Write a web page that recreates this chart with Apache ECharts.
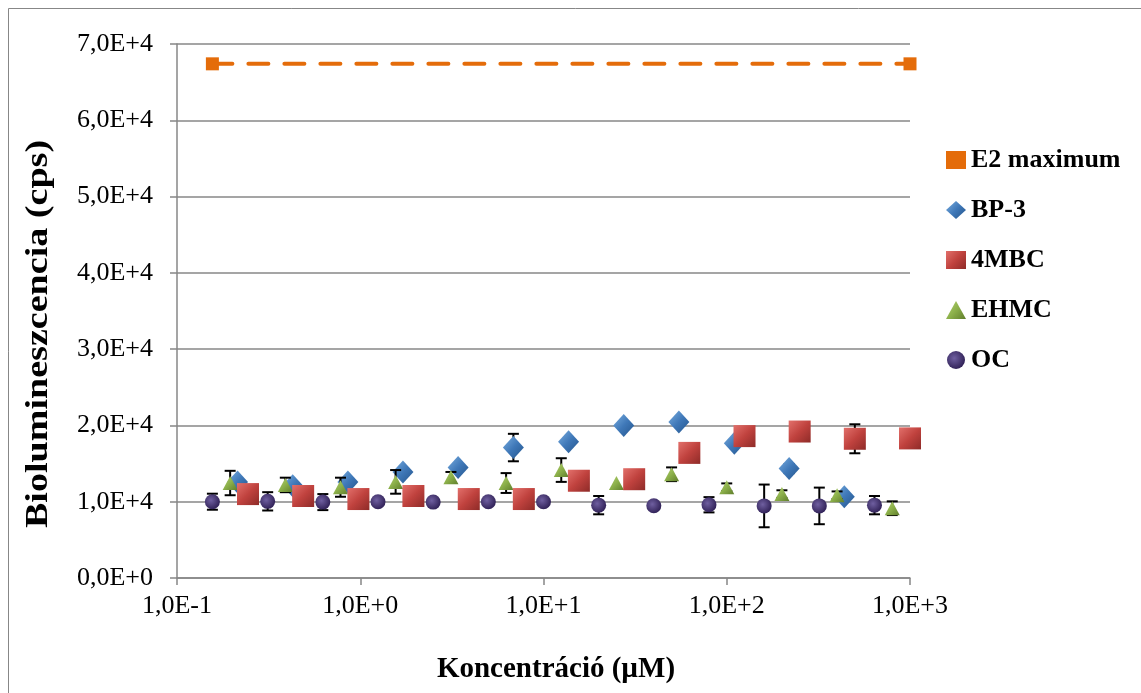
<!DOCTYPE html>
<html>
<head>
<meta charset="utf-8">
<script src="https://cdn.jsdelivr.net/npm/echarts@6/dist/echarts.min.js"></script>
<style>
  html, body { margin: 0; padding: 0; background: #ffffff; }
  #chart { width: 1141px; height: 693px; }
</style>
</head>
<body>
<div id="chart"></div>
<script>
// Concentrations (µM) and bioluminescence (cps) per compound
const e2X = [0.156, 1000];
const e2Y = [67400, 67400];

const bp3X = [0.214, 0.428, 0.856, 1.71, 3.42, 6.85, 13.7, 27.4, 54.8, 110, 219, 438];
const bp3Y = [12600, 12100, 12600, 13900, 14500, 17100, 17850, 20000, 20450, 17650, 14350, 10650];
const bp3Err = [0, 0, 0, 0, 0, 1800, 0, 0, 0, 0, 600, 0];

const mbcX = [0.244, 0.488, 0.977, 1.95, 3.91, 7.81, 15.6, 31.25, 62.5, 125, 250, 500, 1000];
const mbcY = [11000, 10750, 10350, 10750, 10350, 10350, 12750, 12950, 16400, 18600, 19200, 18250, 18300];
const mbcErr = [0, 0, 0, 0, 0, 0, 0, 0, 0, 0, 0, 1900, 0];

const ehmcX = [0.195, 0.39, 0.78, 1.56, 3.125, 6.25, 12.5, 25, 50, 100, 200, 400, 800];
const ehmcY = [12450, 12200, 11900, 12600, 13200, 12450, 14150, 12450, 13600, 11900, 11000, 10850, 9150];
const ehmcErr = [1600, 950, 1250, 1550, 700, 1300, 1550, 0, 900, 500, 500, 500, 900];

const ocX = [0.156, 0.3125, 0.625, 1.25, 2.5, 5, 10, 20, 40, 80, 160, 320, 640];
const ocY = [10000, 10050, 9950, 10000, 9950, 10000, 10000, 9550, 9480, 9600, 9450, 9450, 9550];
const ocErr = [1050, 1200, 1050, 0, 0, 0, 0, 1200, 0, 1000, 2800, 2400, 1200];

const yTicks = ['0,0E+0', '1,0E+4', '2,0E+4', '3,0E+4', '4,0E+4', '5,0E+4', '6,0E+4', '7,0E+4'];

const serif = 'Liberation Serif';
const grey = '#878787';

function pairs(xs, ys) { return xs.map((x, i) => [x, ys[i]]); }
function errData(xs, ys, es) {
  return xs.map((x, i) => [x, ys[i], es[i]]).filter(d => d[2] > 0);
}
function renderErr(params, api) {
  const x = api.value(0), y = api.value(1), e = api.value(2);
  const top = api.coord([x, y + e]);
  const bot = api.coord([x, y - e]);
  const hw = 5.5;
  const st = { stroke: '#000000', lineWidth: 2 };
  return {
    type: 'group',
    children: [
      { type: 'line', shape: { x1: top[0], y1: top[1], x2: bot[0], y2: bot[1] }, style: st },
      { type: 'line', shape: { x1: top[0] - hw, y1: top[1], x2: top[0] + hw, y2: top[1] }, style: st },
      { type: 'line', shape: { x1: bot[0] - hw, y1: bot[1], x2: bot[0] + hw, y2: bot[1] }, style: st }
    ]
  };
}
function errSeries(xs, ys, es, z) {
  return {
    type: 'custom', renderItem: renderErr, z: z, silent: true,
    encode: { x: 0, y: 1 }, data: errData(xs, ys, es)
  };
}
function lin(c0, c1, c2) {
  return { type: 'linear', x: 0, y: 0, x2: 1, y2: 1,
    colorStops: [{ offset: 0, color: c0 }, { offset: 0.5, color: c1 }, { offset: 1, color: c2 }] };
}

const blue = lin('#7aaee0', '#3f78b8', '#24558c');
const red = lin('#e2706b', '#c0423e', '#8e2b28');
const green = lin('#b3d170', '#8cb04a', '#5f7d2b');
const purple = { type: 'radial', x: 0.4, y: 0.4, r: 0.6,
  colorStops: [{ offset: 0, color: '#6f5fa0' }, { offset: 1, color: '#33245a' }] };

const chart = echarts.init(document.getElementById('chart'), null, { renderer: 'canvas' });

chart.setOption({
  backgroundColor: '#ffffff',
  animation: false,
  grid: { left: 177, right: 231, top: 44, bottom: 115 },
  graphic: [
    { type: 'rect', shape: { x: 8.5, y: 8.5, width: 1200, height: 800 },
      style: { fill: null, stroke: grey, lineWidth: 1 }, z: -10 },
    { type: 'text', x: 39, y: 334, rotation: Math.PI / 2, scaleX: 1.19,
      style: { text: 'Biolumineszcencia (cps)', font: 'bold 32px "Liberation Serif"',
        fill: '#000000', textAlign: 'center', textVerticalAlign: 'middle' } },
    { type: 'text', x: 556, y: 670,
      style: { text: 'Koncentráció (µM)', font: 'bold 29px "Liberation Serif"',
        fill: '#000000', textAlign: 'center', textVerticalAlign: 'middle' } }
  ],
  legend: {
    orient: 'vertical', left: 941, top: 142,
    itemWidth: 20, itemHeight: 18, itemGap: 24,
    textStyle: { fontFamily: serif, fontSize: 26, fontWeight: 'bold', color: '#000000' },
    data: [
      { name: 'E2 maximum', icon: 'rect', itemStyle: { color: '#e46c0a' } },
      { name: 'BP-3', icon: 'diamond' },
      { name: '4MBC', icon: 'rect' },
      { name: 'EHMC', icon: 'triangle' },
      { name: 'OC', icon: 'circle' }
    ]
  },
  xAxis: {
    type: 'log', logBase: 10, min: 0.1, max: 1000,
    axisLine: { lineStyle: { color: grey, width: 1.5 } },
    axisTick: { show: true, inside: false, length: 7, lineStyle: { color: grey, width: 1.5 } },
    minorTick: { show: false },
    splitLine: { show: false },
    axisLabel: {
      margin: 15, fontFamily: serif, fontSize: 26, color: '#000000',
      formatter: v => {
        const p = Math.round(Math.log10(v));
        return '1,0E' + (p < 0 ? '-' : '+') + Math.abs(p);
      }
    }
  },
  yAxis: {
    type: 'value', min: 0, max: 70000, interval: 10000,
    axisLine: { show: true, lineStyle: { color: grey, width: 1.5 } },
    axisTick: { show: true, inside: false, length: 7, lineStyle: { color: grey, width: 1.5 } },
    splitLine: { show: true, lineStyle: { color: grey, width: 1.5 } },
    axisLabel: {
      margin: 24, fontFamily: serif, fontSize: 26, color: '#000000',
      formatter: (v) => yTicks[Math.round(v / 10000)]
    }
  },
  series: [
    {
      name: 'E2 maximum', type: 'line', data: pairs(e2X, e2Y), z: 3,
      symbol: 'rect', symbolSize: 13,
      itemStyle: { color: '#e46c0a', opacity: 1 },
      lineStyle: { color: '#e46c0a', width: 4, type: [20, 16], cap: 'round' }
    },
    errSeries(bp3X, bp3Y, bp3Err, 4),
    {
      name: 'BP-3', type: 'scatter', data: pairs(bp3X, bp3Y), z: 5,
      symbol: 'diamond', symbolSize: [21, 23], itemStyle: { color: blue, opacity: 1 }
    },
    errSeries(ehmcX, ehmcY, ehmcErr, 6),
    {
      name: 'EHMC', type: 'scatter', data: pairs(ehmcX, ehmcY), z: 7,
      symbol: 'triangle', symbolSize: [15, 14], itemStyle: { color: green, opacity: 1 }
    },
    errSeries(mbcX, mbcY, mbcErr, 8),
    {
      name: '4MBC', type: 'scatter', data: pairs(mbcX, mbcY), z: 9,
      symbol: 'rect', symbolSize: 22, itemStyle: { color: red, opacity: 1 }
    },
    errSeries(ocX, ocY, ocErr, 10),
    {
      name: 'OC', type: 'scatter', data: pairs(ocX, ocY), z: 11,
      symbol: 'circle', symbolSize: 15, itemStyle: { color: purple, opacity: 1 }
    }
  ]
});
</script>
</body>
</html>
